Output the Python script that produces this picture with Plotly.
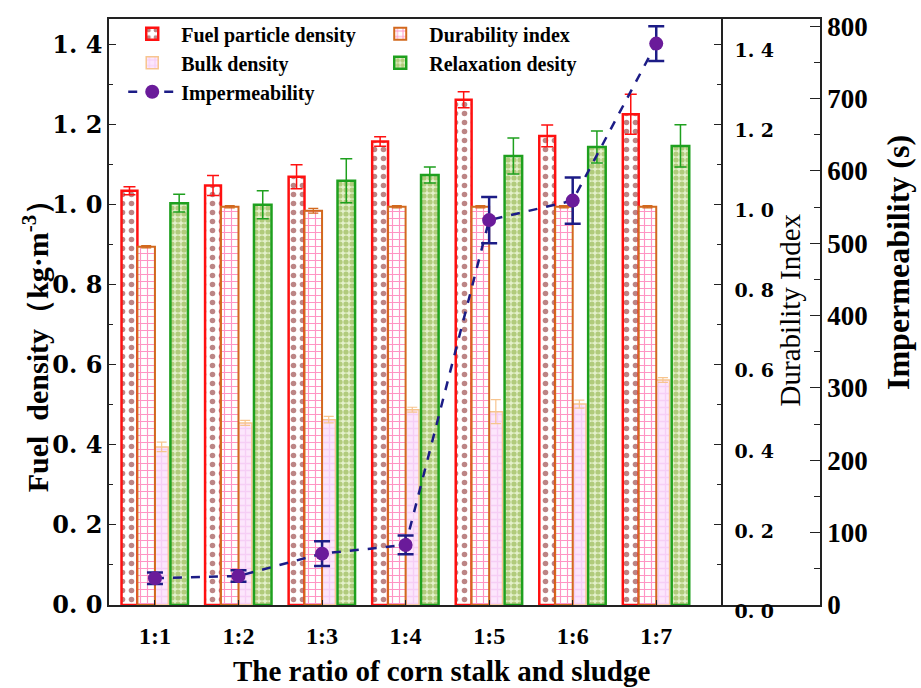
import plotly.graph_objects as go

categories = ["1:1", "1:2", "1:3", "1:4", "1:5", "1:6", "1:7"]

fuel_particle_density = [1.035, 1.048, 1.07, 1.158, 1.262, 1.172, 1.226]
fuel_particle_err = [0.01, 0.025, 0.03, 0.012, 0.02, 0.027, 0.05]

durability_index = [0.895, 0.995, 0.985, 0.995, 0.995, 0.995, 0.995]
durability_err = [0.003, 0.003, 0.006, 0.003, 0.003, 0.003, 0.003]

bulk_density = [0.395, 0.455, 0.463, 0.488, 0.483, 0.502, 0.562]
bulk_err = [0.012, 0.006, 0.008, 0.006, 0.03, 0.01, 0.006]

relaxation_density = [1.004, 1.0, 1.06, 1.074, 1.122, 1.144, 1.147]
relaxation_err = [0.022, 0.035, 0.055, 0.02, 0.045, 0.04, 0.053]

impermeability = [37, 40, 71, 83, 532, 559, 776]
impermeability_err = [8, 8, 17, 13, 32, 32, 24]

left_ticks = [0.0, 0.2, 0.4, 0.6, 0.8, 1.0, 1.2, 1.4]
left_ticktext = ["0. 0", "0. 2", "0. 4", "0. 6", "0. 8", "1. 0", "1. 2", "1. 4"]
imp_ticks = [0, 100, 200, 300, 400, 500, 600, 700, 800]

x = list(range(len(categories)))
SERIF = "Liberation Serif, Times New Roman, serif"
NUMF = "DejaVu Serif, serif"

fig = go.Figure()

fig.add_trace(go.Bar(
    x=x, y=fuel_particle_density, name="Fuel particle density",
    offset=-0.40, width=0.19,
    marker=dict(color="white", line=dict(color="#ff1010", width=2.5),
                pattern=dict(shape=".", fgcolor="#7a0c0c", bgcolor="white", size=9, solidity=0.3)),
    error_y=dict(type="data", array=fuel_particle_err, color="#ff1010", thickness=1.5, width=6),
    yaxis="y", legendrank=1,
))
fig.add_trace(go.Bar(
    x=x, y=durability_index, name="Durability index",
    offset=-0.21, width=0.21,
    marker=dict(color="white", line=dict(color="#d2691e", width=2),
                pattern=dict(shape="+", fgcolor="#ff2a8a", bgcolor="white", size=7, solidity=0.3)),
    error_y=dict(type="data", array=durability_err, color="#d2691e", thickness=1.2, width=5),
    yaxis="y2", legendrank=2,
))
fig.add_trace(go.Bar(
    x=x, y=bulk_density, name="Bulk density",
    offset=0.0, width=0.16,
    marker=dict(color="#fbe0fb", line=dict(color="#f7c58f", width=1.5),
                pattern=dict(shape="+", fgcolor="#f0b6ee", bgcolor="#fce6fc", size=7, solidity=0.35)),
    error_y=dict(type="data", array=bulk_err, color="#f7c58f", thickness=1.2, width=5),
    yaxis="y", legendrank=3,
))
fig.add_trace(go.Bar(
    x=x, y=relaxation_density, name="Relaxation desity",
    offset=0.185, width=0.21,
    marker=dict(color="#e0eec4", line=dict(color="#1ea01e", width=2.5),
                pattern=dict(shape=".", fgcolor="#7ea52c", bgcolor="#e4f0cc", size=6, solidity=0.6)),
    error_y=dict(type="data", array=relaxation_err, color="#1ea01e", thickness=1.5, width=6),
    yaxis="y", legendrank=4,
))
fig.add_trace(go.Scatter(
    x=x, y=impermeability, name="Impermeability", mode="lines+markers",
    line=dict(color="#1c1c86", width=2.5, dash="dash"),
    marker=dict(color="#6a1b9a", size=14),
    error_y=dict(type="data", array=impermeability_err, color="#1c1c86", thickness=2.5, width=8),
    yaxis="y3", legendrank=5,
))

axis_line = dict(showline=True, linecolor="#222", linewidth=1.5, ticks="inside",
                 tickcolor="#222", showgrid=False, zeroline=False)

fig.update_layout(
    width=921, height=688,
    margin=dict(l=109, r=101, t=14, b=83),
    paper_bgcolor="white", plot_bgcolor="white",
    barmode="overlay",
    font=dict(family=SERIF, color="black"),
    xaxis=dict(
        range=[-0.55, 7.96], tickvals=x, ticktext=categories,
        tickfont=dict(family=SERIF, size=24, weight="bold"),
        ticklen=5, mirror=True, ticklabelstandoff=8,
        **axis_line,
    ),
    yaxis=dict(
        range=[0, 1.464], tickvals=left_ticks, ticktext=left_ticktext,
        tickfont=dict(family=NUMF, size=24, weight="bold"),
        ticklen=7, minor=dict(dtick=0.1, tick0=0, ticks="inside", ticklen=4, tickcolor="#222"),
        **axis_line,
    ),
    yaxis2=dict(
        range=[0, 1.464], tickvals=left_ticks, ticktext=left_ticktext,
        overlaying="y", anchor="free", position=0.862, side="right",
        tickfont=dict(family=NUMF, size=19, weight="bold"),
        ticklen=7, ticklabelshift=6, ticklabelstandoff=8,
        minor=dict(dtick=0.1, tick0=0, ticks="inside", ticklen=4, tickcolor="#222"),
        **axis_line,
    ),
    yaxis3=dict(
        range=[0, 810], tickvals=imp_ticks,
        overlaying="y", anchor="x", side="right",
        tickfont=dict(family=SERIF, size=27, weight="bold"),
        ticklen=10, minor=dict(dtick=50, tick0=0, ticks="inside", ticklen=6, tickcolor="#222"),
        **axis_line,
    ),
    legend=dict(
        x=0.02, y=1.008, xanchor="left", yanchor="top",
        orientation="h", entrywidth=185, entrywidthmode="pixels",
        font=dict(family=SERIF, size=20, weight="bold", color="black"),
        bgcolor="rgba(255,255,255,0)", itemwidth=48, tracegroupgap=0,
    ),
    annotations=[
        dict(text="Fuel  density（kg·m<sup>-3</sup>）", xref="paper", yref="paper",
             x=-0.1027, y=0.455, xanchor="center", yanchor="middle", textangle=-90,
             showarrow=False, font=dict(family=SERIF, size=30, weight="bold")),
        dict(text="Durability Index", xref="paper", yref="paper",
             x=0.958, y=0.503, xanchor="center", yanchor="middle", textangle=-90,
             showarrow=False, font=dict(family=SERIF, size=29)),
        dict(text="Impermeability (s)", xref="paper", yref="paper",
             x=1.11, y=0.584, xanchor="center", yanchor="middle", textangle=-90,
             showarrow=False, font=dict(family=SERIF, size=32, weight="bold")),
        dict(text="The ratio of corn stalk and sludge", xref="paper", yref="paper",
             x=0.468, y=-0.113, xanchor="center", yanchor="middle",
             showarrow=False, font=dict(family=SERIF, size=29, weight="bold")),
    ],
)

fig.write_html("out.html")
